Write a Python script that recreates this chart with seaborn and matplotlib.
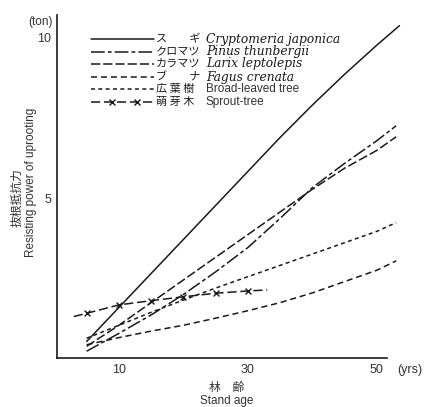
import numpy as np
import pandas as pd
import matplotlib
matplotlib.use("Agg")
import matplotlib.pyplot as plt
import seaborn as sns
from matplotlib.lines import Line2D

# ---------------- data ----------------
years = [5, 10, 15, 20, 25, 30, 35, 40, 45, 50, 53]
sugi_years = [5, 10, 15, 20, 25, 30, 35, 40, 45, 50, 53.5]
sugi = [0.6, 1.65, 2.7, 3.75, 4.8, 5.85, 6.9, 7.9, 8.85, 9.75, 10.35]
kuromatsu = [0.3, 0.85, 1.42, 2.05, 2.75, 3.5, 4.4, 5.35, 6.1, 6.8, 7.26]
karamatsu = [0.45, 1.1, 1.8, 2.5, 3.2, 3.9, 4.6, 5.3, 5.95, 6.5, 6.92]
buna = [0.5, 0.72, 0.92, 1.1, 1.32, 1.55, 1.8, 2.1, 2.45, 2.8, 3.09]
broad = [0.7, 1.1, 1.5, 1.88, 2.25, 2.6, 2.95, 3.3, 3.65, 4.0, 4.27]
sprout_years = [3, 5, 10, 15, 20, 25, 30, 33]
sprout = [1.37, 1.47, 1.73, 1.86, 1.98, 2.09, 2.16, 2.19]
sprout_marked = [5, 10, 15, 20, 25, 30]

x_ticks = [5, 10, 15, 20, 25, 30, 35, 40, 45, 50]
x_labels = ["", "10", "", "", "", "30", "", "", "", "50"]
y_ticks = [1, 2, 3, 4, 5, 6, 7, 8, 9, 10]
y_labels = ["", "", "", "", "5", "", "", "", "", "10"]

jp_names = ["ス\u3000\u3000ギ", "クロマツ", "カラマツ", "ブ\u3000\u3000ナ", "広 葉 樹", "萌 芽 木"]
en_names = ["Cryptomeria japonica", "Pinus thunbergii", "Larix leptolepis",
            "Fagus crenata", "Broad-leaved tree", "Sprout-tree"]

# ---------------- styles ----------------
INK = "#1a1a1a"
GREY = "#333333"
LW = 1.1
styles = {
    "sugi": "-",
    "kuromatsu": (0, (9, 2, 2.5, 2)),
    "karamatsu": (0, (6, 2)),
    "buna": (0, (4, 2.5)),
    "broad": (0, (2.6, 2.2)),
    "sprout": (0, (6, 2.5)),
}

sns.set_theme(style="white")
plt.rcParams["font.family"] = ["Noto Sans CJK JP", "DejaVu Sans"]
JP = ["Noto Sans CJK JP", "DejaVu Sans"]

W, H = 427, 407
fig = plt.figure(figsize=(W / 100, H / 100), dpi=100)
fig.patch.set_facecolor("white")

def fx(px):
    return px / W

def fy(py):
    return 1 - py / H

ax = fig.add_axes([fx(57), fy(358), fx(422) - fx(57), fy(15) - fy(358)])
ax.set_facecolor("white")

series = [
    (sugi_years, sugi, styles["sugi"]),
    (years, kuromatsu, styles["kuromatsu"]),
    (years, karamatsu, styles["karamatsu"]),
    (years, buna, styles["buna"]),
    (years, broad, styles["broad"]),
    (sprout_years, sprout, styles["sprout"]),
]
for xs, ys, ls in series:
    sns.lineplot(x=xs, y=ys, ax=ax, color=INK, linestyle=ls, linewidth=LW)

df_sp = pd.DataFrame({"yr": sprout_years, "v": sprout})
df_sp = df_sp[df_sp["yr"].isin(sprout_marked)]
sns.scatterplot(data=df_sp, x="yr", y="v", ax=ax, marker="x", color=INK,
                s=18, linewidth=1.0, zorder=5)

ax.set_xlim(0.4, 57)
ax.set_ylim(0.09, 10.68)
for s in ("top", "right"):
    ax.spines[s].set_visible(False)
for s in ("left", "bottom"):
    ax.spines[s].set_color(INK)
    ax.spines[s].set_linewidth(1.2)
ax.spines["bottom"].set_bounds(0.4, 51.5)

ax.set_xticks(x_ticks)
ax.set_xticklabels(x_labels)
ax.set_yticks(y_ticks)
ax.set_yticklabels(y_labels)
ax.tick_params(axis="both", direction="in", length=5, width=1.0, color=INK,
               labelsize=9, labelcolor=GREY)
ax.tick_params(axis="x", pad=4)
ax.tick_params(axis="y", pad=4)
for lab in ax.get_xticklabels() + ax.get_yticklabels():
    lab.set_family(["Liberation Sans", "DejaVu Sans"])
ax.set_xlabel("")
ax.set_ylabel("")

# ---------------- annotations ----------------
fig.text(fx(397), fy(370), "(yrs)", fontsize=9, color=GREY,
         family=["Liberation Sans"], ha="left", va="center")
fig.text(fx(53), fy(22), "(ton)", fontsize=8.5, color=GREY,
         family=["Liberation Sans"], ha="right", va="center")

fig.text(fx(17), fy(198), "抜根抵抗力", fontsize=8.5, color=GREY,
         family=JP, rotation=90, ha="center", va="center")
fig.text(fx(31), fy(182), "Resisting power of uprooting", fontsize=8.5,
         color=GREY, family=["Liberation Sans"], rotation=90,
         ha="center", va="center")
fig.text(fx(227), fy(388), "林\u3000齢", fontsize=8.5, color=GREY,
         family=JP, ha="center", va="center")
fig.text(fx(227), fy(401), "Stand age", fontsize=8.5, color=GREY,
         family=["Liberation Sans"], ha="center", va="center")

# ---------------- legend (drawn by hand) ----------------
rows_y = [39, 52, 64, 77, 89, 102]
leg_styles = [styles["sugi"], styles["kuromatsu"], styles["karamatsu"],
              styles["buna"], styles["broad"], styles["sprout"]]
for i, (ry, ls) in enumerate(zip(rows_y, leg_styles)):
    fig.add_artist(Line2D([fx(91), fx(154)], [fy(ry), fy(ry)], color=INK,
                          linestyle=ls, linewidth=LW, transform=fig.transFigure))
    fig.text(fx(156), fy(ry), jp_names[i], fontsize=8, color=INK, family=JP,
             ha="left", va="center")
    if i < 4:
        fig.text(fx(206), fy(ry), en_names[i], fontsize=8.8, color=INK,
                 family=["DejaVu Serif"], style="italic",
                 ha="left", va="center")
    else:
        fig.text(fx(206), fy(ry), en_names[i], fontsize=8.5, color=GREY,
                 family=["Liberation Sans"], ha="left", va="center")
for mx in (112, 137):
    fig.add_artist(Line2D([fx(mx)], [fy(rows_y[5])], marker="x", markersize=4,
                          color=INK, markeredgewidth=1.0, linestyle="none",
                          transform=fig.transFigure))

fig.savefig("out.png", dpi=100, facecolor="white")
